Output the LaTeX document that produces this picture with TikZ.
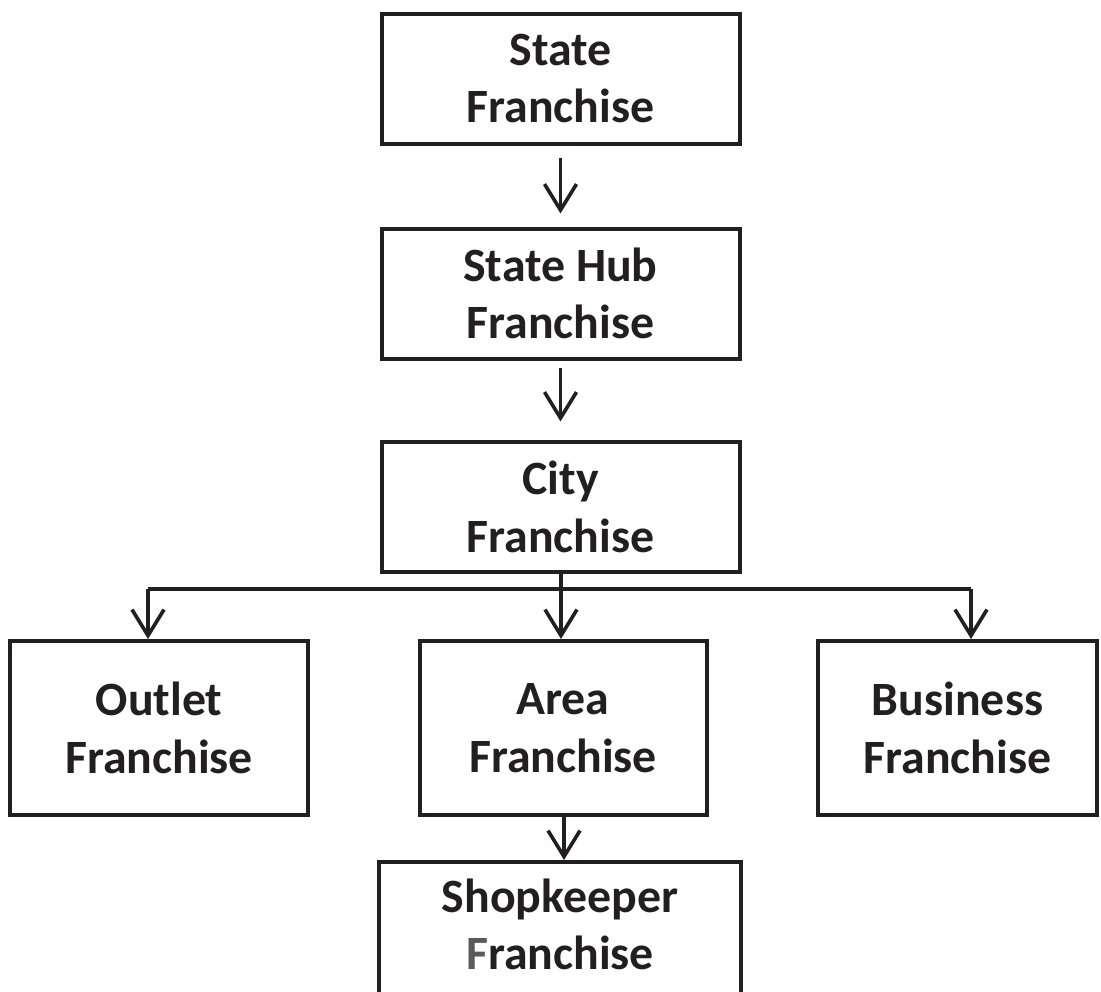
\documentclass[tikz,border=0pt]{standalone}
\usepackage{fontspec}
\setmainfont{Carlito}
\usetikzlibrary{arrows.meta}
\definecolor{ink}{HTML}{231F20}
\definecolor{greyF}{HTML}{5A5A5A}
\begin{document}
\begin{tikzpicture}[x=1bp,y=-1bp,
  box/.style={draw=ink,line width=4bp,inner sep=0pt,align=center,text=ink,
    font=\fontsize{48}{58}\selectfont\bfseries},
  arr/.style={draw=ink,line width=3.6bp,-{Straight Barb[length=26bp,width=32bp]}},
  link/.style={draw=ink,line width=3.6bp}]
\useasboundingbox (0,0) rectangle (1101,992);
\node[box,minimum width=358bp,minimum height=130bp] (state) at (560.5,78.5) {State\\Franchise};
\node[box,minimum width=358bp,minimum height=130bp] (hub) at (560.5,293.5) {State Hub\\Franchise};
\node[box,minimum width=358bp,minimum height=130bp] (city) at (560.5,506.5) {City\\Franchise};
\node[box,minimum width=297bp,minimum height=174bp] (outlet) at (159,728) {Outlet\\Franchise};
\node[box,minimum width=287bp,minimum height=174bp] (area) at (563,728) {Area\\Franchise};
\node[box,minimum width=279bp,minimum height=174bp] (business) at (957.5,728) {Business\\Franchise};
\node[box,minimum width=362bp,minimum height=160bp] (shop) at (560,942) {Shopkeeper\\{\color{greyF}F}ranchise\\[-22bp]\mbox{}};
\draw[arr] ([yshift=-12bp]state.south) -- ([yshift=13bp]hub.north);
\draw[arr] ([yshift=-7bp]hub.south) -- ([yshift=18bp]city.north);
\coordinate (oj) at (148,589);
\coordinate (bj) at (971,589);
\draw[link] (oj) -- (bj);
\draw[arr] (city.south -| 561,0) -- (area.north -| 561,0);
\draw[arr] (oj) -- (oj |- outlet.north);
\draw[arr] (bj) -- (bj |- business.north);
\draw[arr] (area.south -| 564,0) -- (shop.north -| 564,0);
\end{tikzpicture}
\end{document}
